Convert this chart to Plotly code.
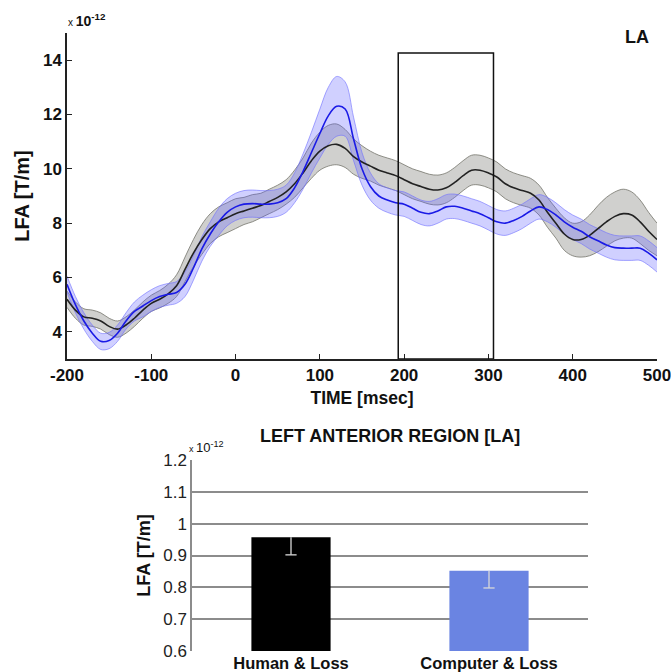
import plotly.graph_objects as go

# ---------------- data ----------------
time_ms = list(range(-200, 501, 10))

human_mean = [5.2, 4.8, 4.55, 4.5, 4.4, 4.2, 4.1, 4.25, 4.5, 4.8,
              5.05, 5.2, 5.4, 5.7, 6.3, 6.9, 7.4, 7.8, 8.05, 8.2,
              8.35, 8.45, 8.55, 8.65, 8.8, 8.95, 9.15, 9.45, 9.85, 10.3,
              10.65, 10.85, 10.9, 10.75, 10.45, 10.25, 10.1, 9.95, 9.85, 9.75,
              9.6, 9.45, 9.35, 9.25, 9.22, 9.3, 9.5, 9.75, 9.95, 9.95,
              9.85, 9.7, 9.45, 9.3, 9.2, 9.1, 8.85, 8.4, 8.0, 7.6,
              7.4, 7.4, 7.55, 7.8, 8.05, 8.25, 8.35, 8.3, 8.05, 7.7,
              7.4]
human_err = [0.3, 0.3, 0.3, 0.3, 0.3, 0.3, 0.3, 0.3, 0.3, 0.3,
             0.3, 0.32, 0.35, 0.4, 0.45, 0.5, 0.55, 0.55, 0.55, 0.55,
             0.55, 0.5, 0.5, 0.45, 0.45, 0.45, 0.45, 0.5, 0.55, 0.65,
             0.7, 0.75, 0.75, 0.7, 0.65, 0.6, 0.55, 0.55, 0.55, 0.55,
             0.55, 0.55, 0.55, 0.55, 0.55, 0.55, 0.55, 0.55, 0.55, 0.55,
             0.55, 0.55, 0.55, 0.55, 0.55, 0.55, 0.55, 0.55, 0.55, 0.6,
             0.6, 0.65, 0.75, 0.85, 0.9, 0.9, 0.9, 0.85, 0.8, 0.7,
             0.6]

computer_mean = [5.75, 5.0, 4.4, 3.95, 3.65, 3.68, 3.95, 4.4, 4.75, 4.95,
                 5.15, 5.3, 5.38, 5.45, 5.75, 6.35, 7.05, 7.6, 8.05, 8.4,
                 8.6, 8.7, 8.72, 8.7, 8.7, 8.75, 8.9, 9.3, 9.9, 10.6,
                 11.3, 11.95, 12.3, 12.2, 11.1, 10.0, 9.35, 9.0, 8.85, 8.75,
                 8.7, 8.55, 8.4, 8.35, 8.45, 8.6, 8.62, 8.55, 8.45, 8.35,
                 8.2, 8.05, 8.0, 8.1, 8.25, 8.45, 8.6, 8.5, 8.3, 8.05,
                 7.85, 7.7, 7.5, 7.35, 7.2, 7.1, 7.08, 7.08, 7.08, 6.9,
                 6.65]
computer_err = [0.3, 0.3, 0.3, 0.3, 0.3, 0.3, 0.3, 0.3, 0.35, 0.4,
                0.4, 0.4, 0.4, 0.4, 0.45, 0.45, 0.45, 0.45, 0.5, 0.5,
                0.5, 0.5, 0.5, 0.5, 0.5, 0.5, 0.5, 0.55, 0.65, 0.75,
                0.9, 1.05, 1.1, 1.0, 0.8, 0.6, 0.5, 0.45, 0.45, 0.45,
                0.45, 0.45, 0.45, 0.45, 0.45, 0.45, 0.45, 0.45, 0.45, 0.45,
                0.45, 0.45, 0.45, 0.45, 0.45, 0.45, 0.45, 0.45, 0.45, 0.45,
                0.45, 0.45, 0.45, 0.45, 0.45, 0.45, 0.45, 0.45, 0.45, 0.45,
                0.45]

window_ms = [193, 306]
window_top = 14.26

y_ticks_top = [4, 6, 8, 10, 12, 14]
x_ticks_top = [-200, -100, 0, 100, 200, 300, 400, 500]

bar_categories = ["Human & Loss", "Computer & Loss"]
bar_values = [0.957, 0.852]
bar_err_minus = [0.055, 0.054]
bar_colors = ["#000000", "#6a84e2"]

# ---------------- figure ----------------
fig = go.Figure()

def band(mean, err, line_col, fill_col):
    up = [m + e for m, e in zip(mean, err)]
    lo = [m - e for m, e in zip(mean, err)]
    fig.add_trace(go.Scatter(x=time_ms, y=up, mode="lines",
                             line=dict(color=line_col, width=1, shape="spline"),
                             showlegend=False, hoverinfo="skip",
                             xaxis="x", yaxis="y"))
    fig.add_trace(go.Scatter(x=time_ms, y=lo, mode="lines", fill="tonexty",
                             fillcolor=fill_col,
                             line=dict(color=line_col, width=1, shape="spline"),
                             showlegend=False, hoverinfo="skip",
                             xaxis="x", yaxis="y"))

band(human_mean, human_err, "rgba(110,110,100,0.75)", "rgba(120,120,115,0.35)")
band(computer_mean, computer_err, "rgba(110,110,255,0.6)", "rgba(100,100,255,0.3)")

fig.add_trace(go.Scatter(x=time_ms, y=human_mean, mode="lines",
                         line=dict(color="#222222", width=1.6, shape="spline"),
                         showlegend=False, xaxis="x", yaxis="y"))
fig.add_trace(go.Scatter(x=time_ms, y=computer_mean, mode="lines",
                         line=dict(color="#1a1ae6", width=1.6, shape="spline"),
                         showlegend=False, xaxis="x", yaxis="y"))

fig.add_shape(type="rect", xref="x", yref="y",
              x0=window_ms[0], x1=window_ms[1], y0=3, y1=window_top,
              line=dict(color="#111111", width=1.5), fillcolor="rgba(0,0,0,0)")

# bar chart
fig.add_trace(go.Bar(x=bar_categories, y=bar_values, marker_color=bar_colors,
                     marker_line_width=0, width=0.4,
                     error_y=dict(type="data", symmetric=False,
                                  array=[0, 0], arrayminus=bar_err_minus,
                                  color="#d8d8d8", thickness=1.3, width=0),
                     showlegend=False, xaxis="x2", yaxis="y2"))
# lower caps of the error bars
fig.add_trace(go.Scatter(x=bar_categories,
                         y=[v - e for v, e in zip(bar_values, bar_err_minus)],
                         mode="markers",
                         marker=dict(symbol="line-ew", size=8,
                                     line=dict(color="#d8d8d8", width=1.3)),
                         showlegend=False, hoverinfo="skip",
                         xaxis="x2", yaxis="y2"))

fig.update_layout(
    width=671, height=672,
    margin=dict(l=0, r=0, t=0, b=0),
    paper_bgcolor="white", plot_bgcolor="white",
    font=dict(family="Liberation Sans", color="#111111"),
    xaxis=dict(domain=[67/671, 657/671], range=[-200, 500],
               tickvals=x_ticks_top,
               ticktext=["<b>%d</b>" % v for v in x_ticks_top],
               ticks="inside", ticklen=5, tickcolor="#222",
               showline=True, linecolor="#222", linewidth=1.5,
               showgrid=False, zeroline=False, automargin=False,
               ticklabeloverflow="allow",
               tickfont=dict(size=17, color="#111"),
               title=dict(text="<b>TIME [msec]</b>", font=dict(size=17.5), standoff=8),
               anchor="y"),
    yaxis=dict(domain=[1-359/672, 1-33/672], range=[3, 15],
               tickvals=y_ticks_top,
               ticktext=["<b>%d</b>" % v for v in y_ticks_top],
               ticks="inside", ticklen=5, tickcolor="#222",
               showline=True, linecolor="#222", linewidth=1.5,
               showgrid=False, zeroline=False, automargin=False,
               tickfont=dict(size=17, color="#111"),
               title=dict(text="<b>LFA [T/m]</b>", font=dict(size=20), standoff=8),
               anchor="x"),
    xaxis2=dict(domain=[192/671, 588/671], anchor="y2",
                showline=False, showgrid=False, zeroline=False, ticks="",
                automargin=False,
                tickfont=dict(size=16.5, color="#111"),
                tickvals=bar_categories,
                ticktext=["<b>%s</b>" % c for c in bar_categories]),
    yaxis2=dict(domain=[1-651/672, 1-460/672], anchor="x2", range=[0.6, 1.2],
                dtick=0.1, showgrid=True, gridcolor="#8c8c8c", gridwidth=1.5,
                showline=True, linecolor="#8c8c8c", linewidth=1.5,
                zeroline=False, ticks="", automargin=False,
                tickfont=dict(size=17, color="#222"),
                title=dict(text="<b>LFA [T/m]</b>", font=dict(size=18), standoff=8)),
    bargap=0.6,
)

fig.add_annotation(text="<span style='font-size:10px'>x </span><b>10<sup>-12</sup></b>",
                   xref="paper", yref="paper",
                   x=66/671, y=1-20/672, xanchor="left", yanchor="middle",
                   showarrow=False, font=dict(size=14, color="#111"))
fig.add_annotation(text="<b>LA</b>", xref="paper", yref="paper",
                   x=637/671, y=1-37/672, xanchor="center", yanchor="middle",
                   showarrow=False, font=dict(size=18, color="#111"))
fig.add_annotation(text="<b>LEFT ANTERIOR REGION [LA]</b>", xref="paper", yref="paper",
                   x=390/671, y=1-436/672, xanchor="center", yanchor="middle",
                   showarrow=False, font=dict(size=18, color="#111"))
fig.add_annotation(text="<span style='font-size:9px'>x </span>10<sup>-12</sup>",
                   xref="paper", yref="paper",
                   x=187/671, y=1-447/672, xanchor="left", yanchor="middle",
                   showarrow=False, font=dict(size=13, color="#111"))

fig.write_html("out.html",
               config={"displayModeBar": False},
               post_script="document.body.style.margin='0px';"
                           "document.body.style.overflow='hidden';")
